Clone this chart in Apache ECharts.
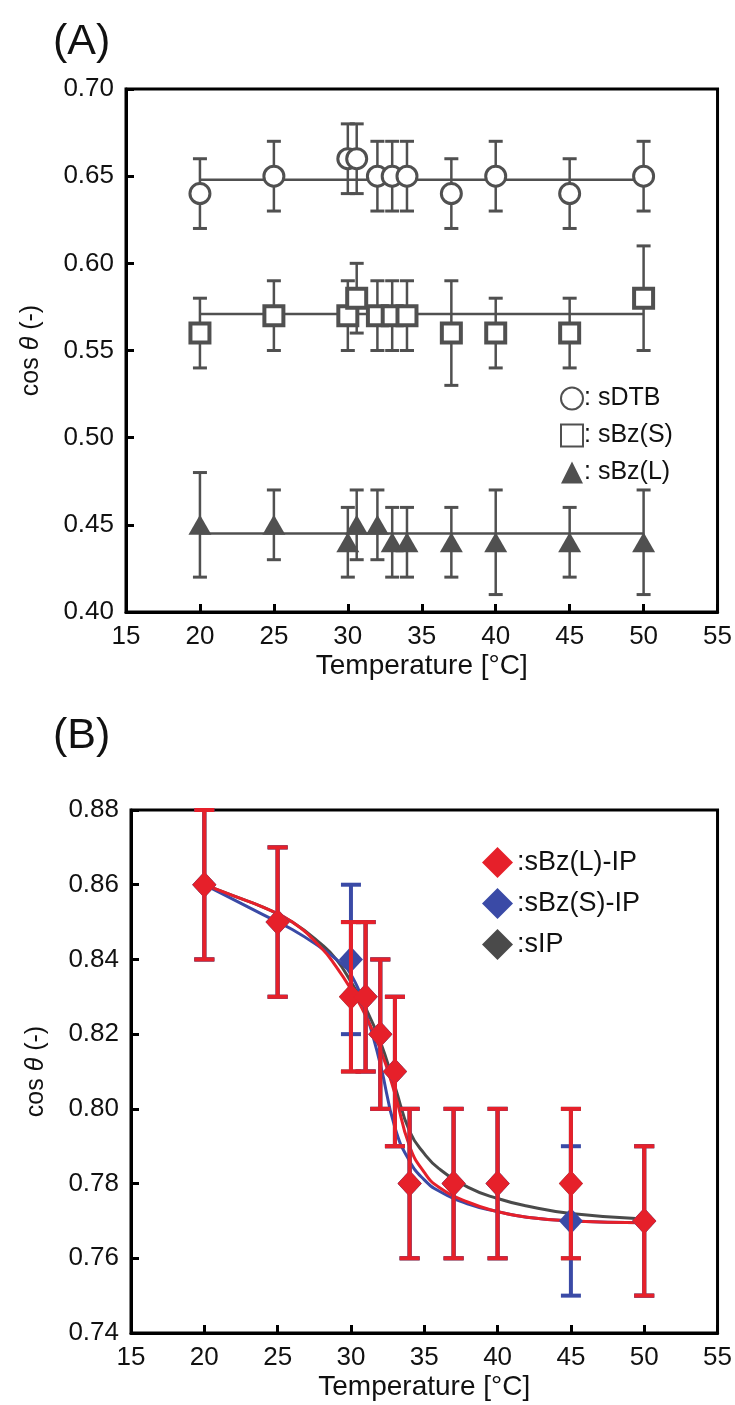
<!DOCTYPE html>
<html><head><meta charset="utf-8">
<script src="https://cdn.jsdelivr.net/npm/echarts@6/dist/echarts.min.js"></script>
<style>html,body{margin:0;padding:0;background:#fff}#c{width:735px;height:1405px}</style>
</head><body><div id="c"></div>
<script>
// ---------- Panel A data ----------
const tempA   = [20, 25, 30, 30.6, 32, 33, 34, 37, 40, 45, 50];
const sDTB    = [0.64, 0.65, 0.66, 0.66, 0.65, 0.65, 0.65, 0.64, 0.65, 0.64, 0.65];
const sDTBErr = [0.02, 0.02, 0.02, 0.02, 0.02, 0.02, 0.02, 0.02, 0.02, 0.02, 0.02];
const sBzS    = [0.56, 0.57, 0.57, 0.58, 0.57, 0.57, 0.57, 0.56, 0.56, 0.56, 0.58];
const sBzSErr = [0.02, 0.02, 0.02, 0.02, 0.02, 0.02, 0.02, 0.03, 0.02, 0.02, 0.03];
const sBzL    = [0.45, 0.45, 0.44, 0.45, 0.45, 0.44, 0.44, 0.44, 0.44, 0.44, 0.44];
const sBzLErr = [0.03, 0.02, 0.02, 0.02, 0.02, 0.02, 0.02, 0.02, 0.03, 0.02, 0.03];
const fitA_T  = [20, 50];
const fitDTB  = [0.648, 0.648];
const fitBzS  = [0.571, 0.571];
const fitBzL  = [0.445, 0.445];

// ---------- Panel B data ----------
const tempB    = [20, 25, 30, 31, 32, 33, 34, 37, 40, 45, 50];
const bzLIP    = [0.86, 0.85, 0.83, 0.83, 0.82, 0.81, 0.78, 0.78, 0.78, 0.78, 0.77];
const bzLIPErr = [0.02, 0.02, 0.02, 0.02, 0.02, 0.02, 0.02, 0.02, 0.02, 0.02, 0.02];
const bzSIP    = [0.86, 0.85, 0.84, 0.83, 0.82, 0.81, 0.78, 0.78, 0.78, 0.77, 0.77];
const bzSIPErr = [0.02, 0.02, 0.02, 0.02, 0.02, 0.02, 0.02, 0.02, 0.02, 0.02, 0.02];
const sIP      = [0.86, 0.85, 0.83, 0.83, 0.82, 0.81, 0.78, 0.78, 0.78, 0.78, 0.77];
const sIPErr   = [0.02, 0.02, 0.02, 0.02, 0.02, 0.02, 0.02, 0.02, 0.02, 0.02, 0.02];
// fitted curves
const curveT    = [20, 22, 24, 26, 28, 29, 30, 31, 32, 33, 34, 35, 36, 38, 40, 42, 45, 50];
const curveRed  = [0.860, 0.857, 0.854, 0.850, 0.843, 0.838, 0.832, 0.825, 0.816, 0.804, 0.790, 0.783, 0.779, 0.775, 0.7725, 0.771, 0.770, 0.7695];
const curveBlue = [0.860, 0.856, 0.852, 0.848, 0.843, 0.840, 0.836, 0.826, 0.812, 0.795, 0.786, 0.781, 0.778, 0.7745, 0.7725, 0.771, 0.770, 0.7695];
const curveGray = [0.860, 0.857, 0.854, 0.850, 0.844, 0.840, 0.834, 0.827, 0.818, 0.806, 0.794, 0.788, 0.784, 0.779, 0.776, 0.774, 0.772, 0.7705];

const FONT = "'Liberation Sans', Arial, sans-serif";
const GRAY = '#505050';
const RED = '#e6202a';
const BLUE = '#3a4aa6';
const DARK = '#4a4a4a';

const zip = (xs, ys) => xs.map((x, i) => [x, ys[i]]);
const errData = (xs, ys, es) => xs.map((x, i) => [x, ys[i] - es[i], ys[i] + es[i]]);

function errSeries(name, xi, yi, data, color, lw, capW, capLw, z) {
  return {
    type: 'custom', name: name, xAxisIndex: xi, yAxisIndex: yi, z: z, silent: true,
    renderItem: function (params, api) {
      const x = api.value(0), lo = api.value(1), hi = api.value(2);
      const pt = api.coord([x, hi]), pb = api.coord([x, lo]);
      const st = { stroke: color, lineWidth: lw };
      const sc = { stroke: color, lineWidth: capLw };
      return { type: 'group', children: [
        { type: 'line', shape: { x1: pt[0], y1: pt[1], x2: pb[0], y2: pb[1] }, style: st },
        { type: 'line', shape: { x1: pt[0] - capW, y1: pt[1], x2: pt[0] + capW, y2: pt[1] }, style: sc },
        { type: 'line', shape: { x1: pb[0] - capW, y1: pb[1], x2: pb[0] + capW, y2: pb[1] }, style: sc }
      ]};
    },
    data: data
  };
}

function xAxisDef(gi) {
  return {
    type: 'value', gridIndex: gi, min: 15, max: 55, interval: 5,
    name: 'Temperature [\u00B0C]', nameLocation: 'middle', nameGap: 40,
    nameTextStyle: { fontFamily: FONT, fontSize: 28, color: '#111' },
    axisLine: { lineStyle: { color: '#000', width: 3 } },
    axisTick: { inside: true, length: 8, lineStyle: { color: '#000', width: 3 } },
    axisLabel: { fontFamily: FONT, fontSize: 26, color: '#111', margin: 12 },
    splitLine: { show: false }
  };
}
function yAxisDef(gi, min, max, iv) {
  return {
    type: 'value', gridIndex: gi, min: min, max: max, interval: iv,
    name: '{a|cos }{b|\u03B8}{a| (-)}', nameLocation: 'middle', nameGap: 82,
    nameTextStyle: { rich: { a: { fontFamily: FONT, fontSize: 25, color: '#111' }, b: { fontFamily: FONT, fontSize: 25, fontStyle: 'italic', color: '#111' } } },
    axisLine: { lineStyle: { color: '#000', width: 3 } },
    axisTick: { inside: true, length: 8, lineStyle: { color: '#000', width: 3 } },
    axisLabel: { fontFamily: FONT, fontSize: 26, color: '#111', margin: 12, formatter: v => v.toFixed(2) },
    splitLine: { show: false }
  };
}

const chart = echarts.init(document.getElementById('c'), null, { renderer: 'canvas' });
chart.setOption({
  animation: false,
  backgroundColor: '#fff',
  title: [
    { text: '(A)', left: 48, top: 16, textStyle: { fontFamily: FONT, fontSize: 43, fontWeight: 'normal', color: '#111' } },
    { text: '(B)', left: 48, top: 710, textStyle: { fontFamily: FONT, fontSize: 43, fontWeight: 'normal', color: '#111' } }
  ],
  grid: [
    { left: 126, top: 89, width: 594, height: 523, show: true, borderColor: '#000', borderWidth: 3, backgroundColor: 'transparent' },
    { left: 131, top: 810, width: 590, height: 523, show: true, borderColor: '#000', borderWidth: 3, backgroundColor: 'transparent' }
  ],
  xAxis: [xAxisDef(0), xAxisDef(1)],
  yAxis: [yAxisDef(0, 0.40, 0.70, 0.05), yAxisDef(1, 0.74, 0.88, 0.02)],
  legend: [
    { orient: 'vertical', left: 555, top: 381, itemWidth: 22, itemHeight: 22, itemGap: 12,
      data: ['sDTB', 'sBz(S)', 'sBz(L)'],
      formatter: n => ': ' + n,
      textStyle: { fontFamily: FONT, fontSize: 25, color: '#111', padding: [0, 0, 0, -4] } },
    { orient: 'vertical', left: 477, top: 842, itemWidth: 31, itemHeight: 31, itemGap: 10,
      data: ['sBz(L)-IP', 'sBz(S)-IP', 'sIP'],
      formatter: n => ':' + n,
      textStyle: { fontFamily: FONT, fontSize: 27, color: '#111', padding: [0, 0, 0, -1] } }
  ],
  series: [
    // Panel A fit lines
    { type: 'line', xAxisIndex: 0, yAxisIndex: 0, data: zip(fitA_T, fitDTB), symbol: 'none', lineStyle: { color: GRAY, width: 2.5 }, z: 1, silent: true },
    { type: 'line', xAxisIndex: 0, yAxisIndex: 0, data: zip(fitA_T, fitBzS), symbol: 'none', lineStyle: { color: GRAY, width: 2.5 }, z: 1, silent: true },
    { type: 'line', xAxisIndex: 0, yAxisIndex: 0, data: zip(fitA_T, fitBzL), symbol: 'none', lineStyle: { color: GRAY, width: 2.5 }, z: 1, silent: true },
    errSeries('eDTB', 0, 0, errData(tempA, sDTB, sDTBErr), GRAY, 2.5, 7, 3, 2),
    errSeries('eBzS', 0, 0, errData(tempA, sBzS, sBzSErr), GRAY, 2.5, 7, 3, 2),
    errSeries('eBzL', 0, 0, errData(tempA, sBzL, sBzLErr), GRAY, 2.5, 7, 3, 2),
    { type: 'scatter', name: 'sDTB', xAxisIndex: 0, yAxisIndex: 0, data: zip(tempA, sDTB), symbol: 'circle', symbolSize: 20,
      itemStyle: { color: '#fff', borderColor: GRAY, borderWidth: 3, opacity: 1 }, z: 5 },
    { type: 'scatter', name: 'sBz(S)', xAxisIndex: 0, yAxisIndex: 0, data: zip(tempA, sBzS), symbol: 'rect', symbolSize: 19,
      itemStyle: { color: '#fff', borderColor: GRAY, borderWidth: 4, opacity: 1 }, z: 5 },
    { type: 'scatter', name: 'sBz(L)', xAxisIndex: 0, yAxisIndex: 0, data: zip(tempA, sBzL), symbol: 'triangle', symbolSize: [23, 20],
      itemStyle: { color: GRAY, opacity: 1 }, z: 5 },

    // Panel B fitted curves
    { type: 'line', xAxisIndex: 1, yAxisIndex: 1, data: zip(curveT, curveGray), smooth: true, symbol: 'none', lineStyle: { color: DARK, width: 3 }, z: 1, silent: true },
    { type: 'line', xAxisIndex: 1, yAxisIndex: 1, data: zip(curveT, curveBlue), smooth: true, symbol: 'none', lineStyle: { color: BLUE, width: 3 }, z: 1, silent: true },
    { type: 'line', xAxisIndex: 1, yAxisIndex: 1, data: zip(curveT, curveRed), smooth: true, symbol: 'none', lineStyle: { color: RED, width: 3 }, z: 1, silent: true },
    errSeries('eIP', 1, 1, errData(tempB, sIP, sIPErr), DARK, 4, 10, 4, 2),
    { type: 'scatter', name: 'sIP', xAxisIndex: 1, yAxisIndex: 1, data: zip(tempB, sIP), symbol: 'diamond', symbolSize: [24, 26],
      itemStyle: { color: DARK, opacity: 1 }, z: 3 },
    errSeries('eBzSIP', 1, 1, errData(tempB, bzSIP, bzSIPErr), BLUE, 4, 10, 4, 4),
    { type: 'scatter', name: 'sBz(S)-IP', xAxisIndex: 1, yAxisIndex: 1, data: zip(tempB, bzSIP), symbol: 'diamond', symbolSize: [24, 26],
      itemStyle: { color: BLUE, opacity: 1 }, z: 5 },
    errSeries('eBzLIP', 1, 1, errData(tempB, bzLIP, bzLIPErr), RED, 4, 10, 4, 6),
    { type: 'scatter', name: 'sBz(L)-IP', xAxisIndex: 1, yAxisIndex: 1, data: zip(tempB, bzLIP), symbol: 'diamond', symbolSize: [24, 26],
      itemStyle: { color: RED, opacity: 1 }, z: 7 }
  ]
});
</script></body></html>
